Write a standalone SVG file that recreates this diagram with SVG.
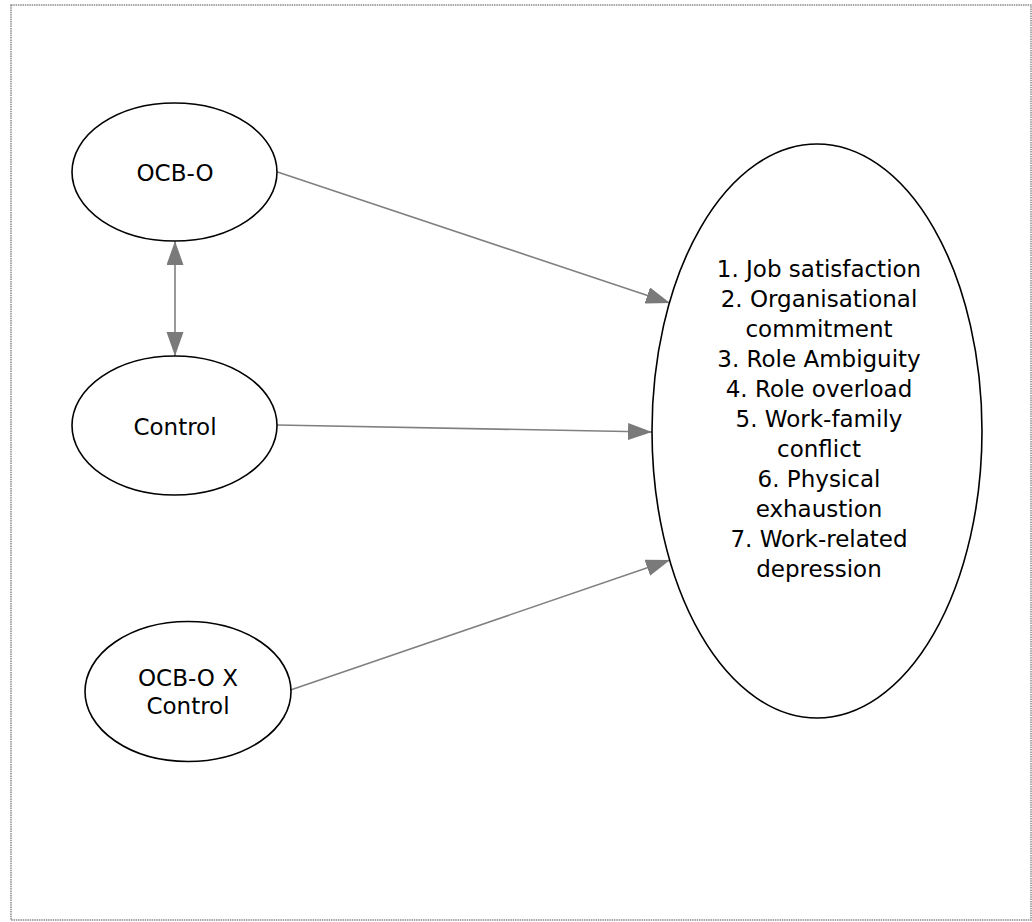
<svg xmlns="http://www.w3.org/2000/svg" width="1032" height="922" viewBox="0 0 1032 922">
<style>
.node{fill:#ffffff;stroke:#000000;stroke-width:1.6}
.lbl{font-family:"DejaVu Sans",Verdana,sans-serif;font-size:23px;fill:#000000;text-anchor:middle}
.edge{stroke:#808080;stroke-width:1.6;fill:none}
.frame{fill:none;stroke:#8a8a8a;stroke-width:1.5;stroke-dasharray:1.5 0.8}
</style>
<defs>
<marker id="arr" markerUnits="userSpaceOnUse" markerWidth="25" markerHeight="18" refX="24" refY="8.5" orient="auto-start-reverse" viewBox="0 0 25 18">
<path d="M0,0 L24,8.5 L0,17 z" fill="#7a7a7a"/>
</marker>
</defs>
<rect class="frame" x="11" y="5" width="1020" height="915"/>
<g id="connectors">
<line class="edge" x1="277.5" y1="172" x2="670" y2="303" marker-end="url(#arr)"/>
<line class="edge" x1="277" y1="425" x2="652" y2="432" marker-end="url(#arr)"/>
<line class="edge" x1="290.5" y1="690" x2="670" y2="560" marker-end="url(#arr)"/>
<line class="edge" x1="175" y1="241" x2="175" y2="356" marker-start="url(#arr)" marker-end="url(#arr)"/>
</g>
<g id="ocbo">
<ellipse class="node" cx="174.5" cy="172" rx="102.5" ry="69"/>
<text class="lbl" x="175" y="181">OCB-O</text>
</g>
<g id="control">
<ellipse class="node" cx="174.5" cy="425.5" rx="102.5" ry="69.5"/>
<text class="lbl" x="175" y="435">Control</text>
</g>
<g id="interaction">
<ellipse class="node" cx="188" cy="691.5" rx="103" ry="70"/>
<text class="lbl" x="188" y="686">OCB-O X</text>
<text class="lbl" x="188" y="714">Control</text>
</g>
<g id="outcomes">
<ellipse class="node" cx="817" cy="431" rx="165" ry="287"/>
<text class="lbl" x="819" y="277">1. Job satisfaction</text>
<text class="lbl" x="819" y="307">2. Organisational</text>
<text class="lbl" x="819" y="337">commitment</text>
<text class="lbl" x="819" y="367">3. Role Ambiguity</text>
<text class="lbl" x="819" y="397">4. Role overload</text>
<text class="lbl" x="819" y="427">5. Work-family</text>
<text class="lbl" x="819" y="457">conflict</text>
<text class="lbl" x="819" y="487">6. Physical</text>
<text class="lbl" x="819" y="517">exhaustion</text>
<text class="lbl" x="819" y="547">7. Work-related</text>
<text class="lbl" x="819" y="577">depression</text>
</g>
</svg>
